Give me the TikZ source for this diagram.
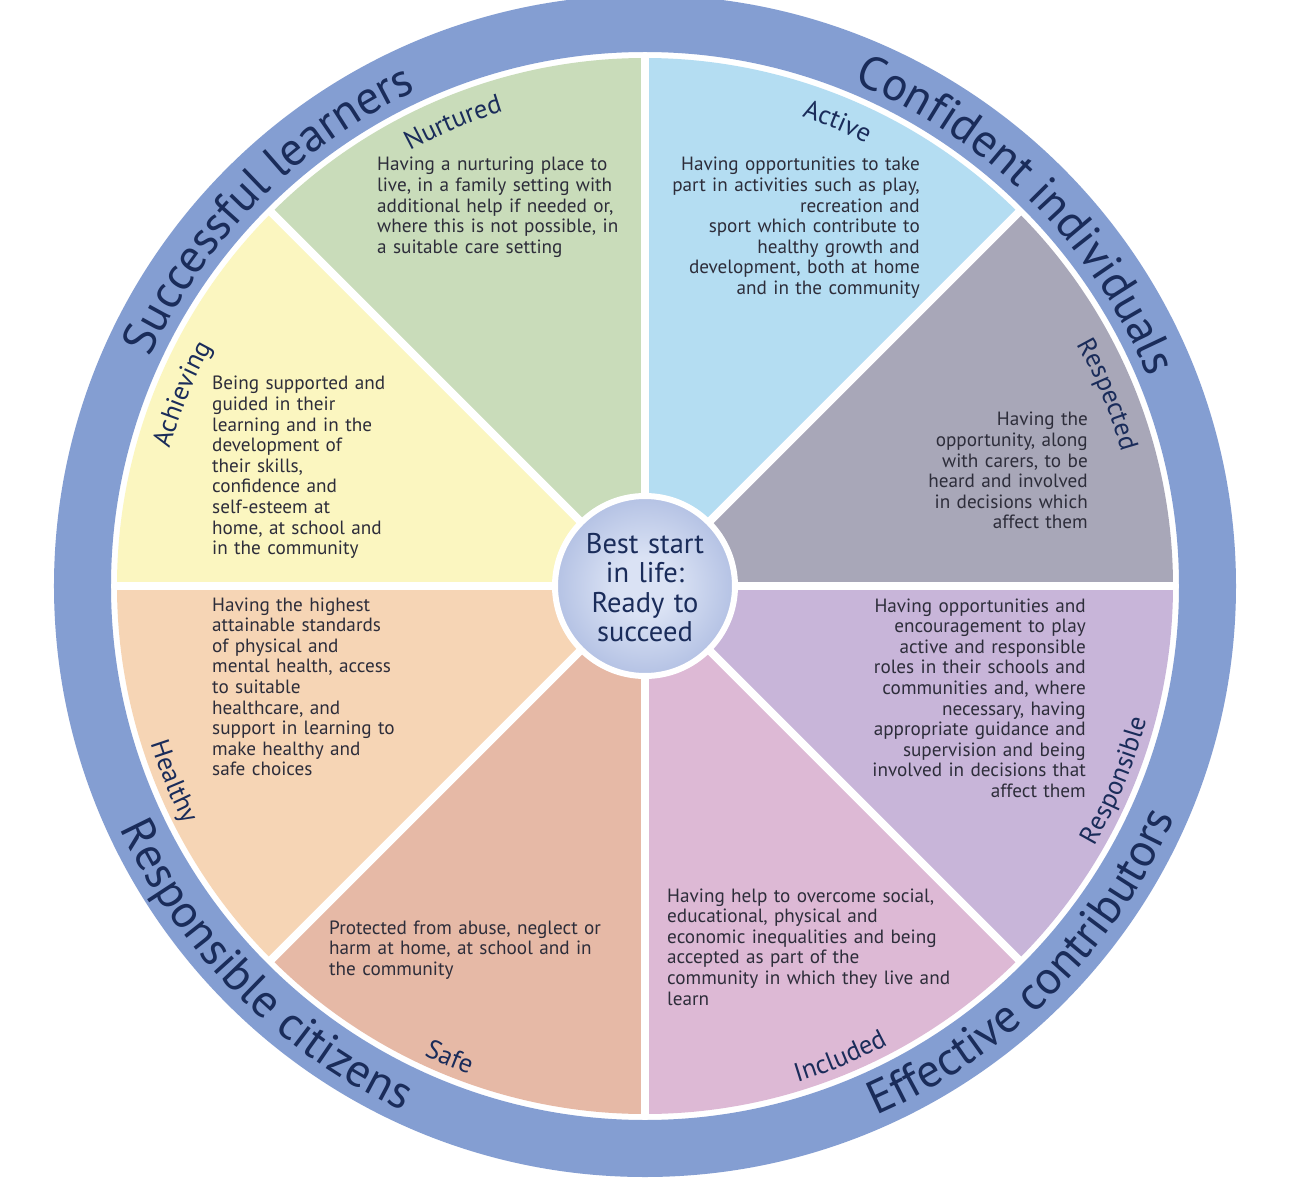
\documentclass[tikz,border=0pt]{standalone}
\usepackage{fontspec}
\setmainfont{PT Sans}
\usetikzlibrary{decorations.text}
\definecolor{ringc}{RGB}{132,158,210}
\definecolor{navyc}{RGB}{26,44,90}
\definecolor{bodyc}{RGB}{45,45,58}
\definecolor{greenc}{RGB}{201,220,186}
\definecolor{bluec}{RGB}{180,221,242}
\definecolor{grayc}{RGB}{168,167,184}
\definecolor{yellowc}{RGB}{251,246,192}
\definecolor{peachc}{RGB}{246,213,181}
\definecolor{salmonc}{RGB}{230,185,166}
\definecolor{pinkc}{RGB}{221,185,213}
\definecolor{purplec}{RGB}{200,181,217}
\definecolor{balllight}{RGB}{218,226,244}
\definecolor{balldark}{RGB}{124,146,204}
\pgfdeclareradialshading{ballshade}{\pgfpoint{0bp}{0bp}}{color(0bp)=(balllight); color(8bp)=(balllight); color(50bp)=(balldark)}
\newcommand\ttlfont{\fontsize{47}{47}\selectfont\color{navyc}}
\newcommand\lblfont{\fontsize{26.5}{26.5}\selectfont\color{navyc}}
\begin{document}
\begin{tikzpicture}[x=1pt,y=1pt,
  body/.style={inner sep=0pt, text=bodyc, font=\fontsize{19.2}{20.6}\selectfont, text width=440pt},
  bodyl/.style={body, align=left, anchor=base west},
  bodyr/.style={body, align=right, anchor=base east},
  ringtitle/.style={decorate, decoration={text along path, text align=center, text={|\ttlfont|#1}}},
  seclabel/.style={decorate, decoration={text along path, text align=center, text={|\lblfont|#1}}}
]
\useasboundingbox (-645,-592) rectangle (645,586);
\clip (-645,-592) rectangle (645,586);
\fill[white] (-645,-592) rectangle (645,586);
% outer ring
\fill[ringc, even odd rule] (0,0) circle[radius=591pt] (0,0) circle[radius=534pt];
% sectors
\foreach \a/\c in {0/grayc,45/bluec,90/greenc,135/yellowc,180/peachc,225/salmonc,270/pinkc,315/purplec}
  \fill[\c] (0,0) -- (\a:528pt) arc[start angle=\a, end angle=\a+45, radius=528pt] -- cycle;
% white dividers
\foreach \a in {0,45,...,315}
  \draw[white, line width=8pt] (0,0) -- (\a:531pt);
% ring titles
\path[ringtitle={Successful learners}] (180:545pt) arc[start angle=180, end angle=90, radius=545pt];
\path[ringtitle={Confident individuals}] (90:545pt) arc[start angle=90, end angle=0, radius=545pt];
\path[ringtitle={Responsible citizens}] (180:578pt) arc[start angle=180, end angle=270, radius=578pt];
\path[ringtitle={Effective contributors}] (270:578pt) arc[start angle=270, end angle=360, radius=578pt];
% sector labels
\path[seclabel={Nurtured}] (135:495pt) arc[start angle=135, end angle=90, radius=495pt];
\path[seclabel={Active}] (90:495pt) arc[start angle=90, end angle=45, radius=495pt];
\path[seclabel={Respected}] (45:495pt) arc[start angle=45, end angle=0, radius=495pt];
\path[seclabel={Achieving}] (180:495pt) arc[start angle=180, end angle=135, radius=495pt];
\path[seclabel={Healthy}] (180:519pt) arc[start angle=180, end angle=225, radius=519pt];
\path[seclabel={Safe}] (225:519pt) arc[start angle=225, end angle=270, radius=519pt];
\path[seclabel={Included}] (270:519pt) arc[start angle=270, end angle=315, radius=519pt];
\path[seclabel={Responsible}] (315:519pt) arc[start angle=315, end angle=360, radius=519pt];
% body texts
\node[bodyl] (nurtured) at (-268,415) {Having a nurturing place to\\live, in a family setting with\\additional help if needed or,\\where this is not possible, in\\a suitable care setting};
\node[bodyr] (active) at (275,415) {Having opportunities to take\\part in activities such as play,\\recreation and\\sport which contribute to\\healthy growth and\\development, both at home\\and in the community};
\node[bodyl] (achieving) at (-433,196) {Being supported and\\guided in their\\learning and in the\\development of\\their skills,\\confidence and\\self-esteem at\\home, at school and\\in the community};
\node[bodyr] (respected) at (443,160) {Having the\\opportunity, along\\with carers, to be\\heard and involved\\in decisions which\\affect them};
\node[bodyl] (healthy) at (-433,-25) {Having the highest\\attainable standards\\of physical and\\mental health, access\\to suitable\\healthcare, and\\support in learning to\\make healthy and\\safe choices};
\node[bodyr] (responsible) at (441,-26) {Having opportunities and\\encouragement to play\\active and responsible\\roles in their schools and\\communities and, where\\necessary, having\\appropriate guidance and\\supervision and being\\involved in decisions that\\affect them};
\node[bodyl] (safe) at (-316,-348) {Protected from abuse, neglect or\\harm at home, at school and in\\the community};
\node[bodyl] (included) at (22,-316) {Having help to overcome social,\\educational, physical and\\economic inequalities and being\\accepted as part of the\\community in which they live and\\learn};
% centre
\node[circle, draw=white, line width=6pt, minimum size=180pt, shading=ballshade] (core) at (0,0) {};
\node[inner sep=0pt, text=navyc, font=\fontsize{28.5}{29.5}\selectfont, align=center, text width=170pt, anchor=base] (coretext) at (0,33) {Best start\\in life:\\Ready to\\succeed};
\end{tikzpicture}
\end{document}
